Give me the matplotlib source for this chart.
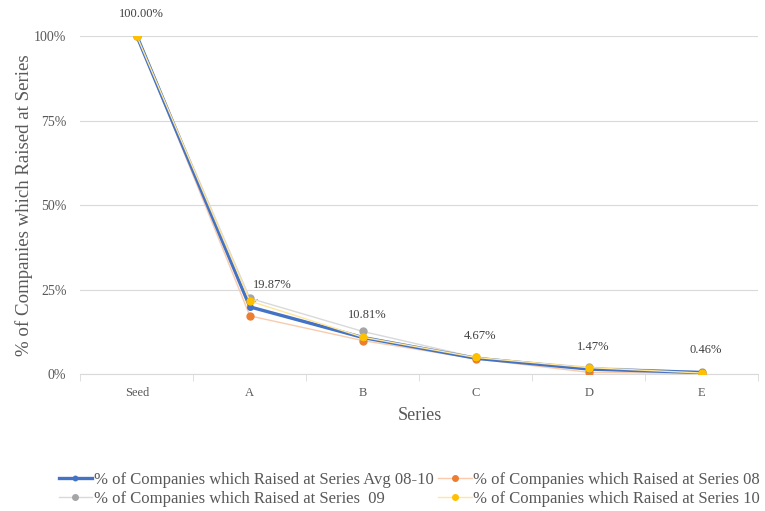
import matplotlib.pyplot as plt
import matplotlib.ticker as mticker

plt.rcParams['font.family'] = ['Liberation Serif', 'DejaVu Serif']

series = ['Seed', 'A', 'B', 'C', 'D', 'E']
avg_08_10 = [100.00, 19.87, 10.81, 4.67, 1.47, 0.46]
raised_08 = [100.0, 17.2, 9.9, 4.5, 0.5, 0.2]
raised_09 = [100.0, 22.4, 12.6, 4.9, 2.0, 0.7]
raised_10 = [100.0, 21.6, 10.9, 4.9, 1.9, 0.3]

x = list(range(len(series)))

fig = plt.figure(figsize=(7.65, 5.11), dpi=100)
ax = fig.add_axes([0.105, 0.268, 0.8865, 0.6615])

l_avg, = ax.plot(x, avg_08_10, color='#4472C4', lw=2.4, marker='o', ms=4,
                 label='% of Companies which Raised at Series Avg 08-10', zorder=5)
l_08, = ax.plot(x, raised_08, color='#F8CBAD', lw=1.0, marker='o', ms=5,
                mfc='#ED7D31', mec='#ED7D31',
                label='% of Companies which Raised at Series 08', zorder=4)
l_09, = ax.plot(x, raised_09, color='#D9D9D9', lw=1.0, marker='o', ms=5,
                mfc='#A5A5A5', mec='#A5A5A5',
                label='% of Companies which Raised at Series  09', zorder=4)
l_10, = ax.plot(x, raised_10, color='#FFE699', lw=1.0, marker='o', ms=5,
                mfc='#FFC000', mec='#FFC000',
                label='% of Companies which Raised at Series 10', zorder=6)

# value labels for the average series
for i, v in enumerate(avg_08_10):
    if i == 1:
        ax.annotate(f'{v:.2f}%', xy=(i, v), xytext=(16, 16),
                    textcoords='offset points', ha='center', va='center',
                    fontsize=9, color='#404040',
                    arrowprops=dict(arrowstyle='-', color='#A6A6A6', lw=0.8,
                                    shrinkA=6, shrinkB=2))
    else:
        ax.annotate(f'{v:.2f}%', xy=(i, v), xytext=(3, 16),
                    textcoords='offset points', ha='center', va='center',
                    fontsize=9, color='#404040')

ax.set_xlim(-0.5, len(series) - 0.5)
ax.set_ylim(0, 100)
ax.set_xticks(x)
ax.set_xticklabels(series, fontsize=9, color='#595959')
ax.set_xticks([i + 0.5 for i in range(-1, len(series))], minor=True)
ax.tick_params(axis='x', which='major', length=0, pad=9)
ax.tick_params(axis='x', which='minor', length=5, color='#D9D9D9')
ax.set_yticks([0, 25, 50, 75, 100])
ax.yaxis.set_major_formatter(mticker.FuncFormatter(lambda v, _: f'{v:.0f}%'))
ax.tick_params(axis='y', length=0, labelsize=10, labelcolor='#595959', pad=10)

ax.grid(axis='y', color='#D9D9D9', lw=0.8)
ax.set_axisbelow(True)
for side in ['top', 'right', 'left']:
    ax.spines[side].set_visible(False)
ax.spines['bottom'].set_color('#D9D9D9')

ax.set_xlabel('Series', fontsize=13, color='#595959', labelpad=6)
ax.set_ylabel('% of Companies which Raised at Series', fontsize=13.6,
              color='#595959', labelpad=1)

# row-wise order: avg, 08 on the first row; 09, 10 on the second
fig.legend(handles=[l_avg, l_09, l_08, l_10],
           loc='lower center', bbox_to_anchor=(0.535, -0.022), ncol=2,
           frameon=False, fontsize=12, handlelength=2.0, handletextpad=0.1,
           columnspacing=0.3, labelspacing=0.2, labelcolor='#595959',
           markerscale=0.8)

fig.savefig('out.png', dpi=100)
